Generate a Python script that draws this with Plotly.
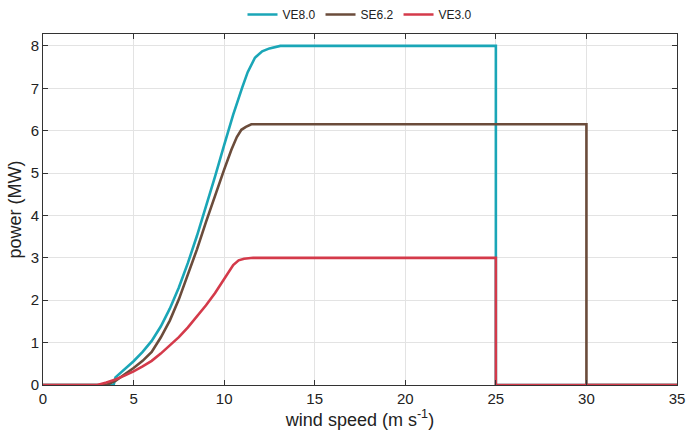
import plotly.graph_objects as go

# VE8.0 power curve
ve8_wind = [0, 3.9, 4.0, 4.5, 5.0, 5.5, 6.0, 6.5, 7.0, 7.5, 8.0, 8.5, 9.0, 9.5, 10.0, 10.5,
            11.0, 11.3, 11.7, 12.1, 12.5, 13.1, 25, 25, 35]
ve8_power = [0, 0, 0.18, 0.36, 0.56, 0.78, 1.04, 1.38, 1.8, 2.3, 2.88, 3.52, 4.2, 4.92, 5.66, 6.38,
             7.02, 7.38, 7.72, 7.87, 7.94, 8.0, 8.0, 0, 0]

# SE6.2 power curve
se6_wind = [0, 3.5, 4.0, 4.5, 5.0, 5.5, 6.0, 6.5, 7.0, 7.5, 8.0, 8.5, 9.0, 9.5, 10.0, 10.4,
            10.7, 10.95, 11.2, 11.5, 30, 30, 35]
se6_power = [0, 0, 0.1, 0.24, 0.4, 0.57, 0.78, 1.12, 1.52, 2.02, 2.6, 3.2, 3.85, 4.48, 5.08, 5.55,
             5.85, 6.02, 6.09, 6.15, 6.15, 0, 0]

# VE3.0 power curve
ve3_wind = [0, 3.0, 3.5, 4.0, 4.5, 5.0, 5.5, 6.0, 6.5, 7.0, 7.5, 8.0, 8.5, 9.0, 9.5, 10.0,
            10.5, 10.8, 11.1, 11.6, 25, 25, 35]
ve3_power = [0, 0, 0.06, 0.13, 0.22, 0.32, 0.44, 0.57, 0.74, 0.93, 1.13, 1.36, 1.62, 1.88, 2.17, 2.5,
             2.83, 2.94, 2.98, 3.0, 3.0, 0, 0]

series = [
    ("VE8.0", ve8_wind, ve8_power, "#1aa6b7"),
    ("SE6.2", se6_wind, se6_power, "#6b4c3b"),
    ("VE3.0", ve3_wind, ve3_power, "#d43a4a"),
]

fig = go.Figure()
for name, x, y, c in series:
    fig.add_trace(go.Scatter(x=x, y=y, mode="lines", name=name,
                             line=dict(color=c, width=2.6)))

font = "Liberation Sans, Arial, sans-serif"
fig.update_layout(
    width=689, height=438,
    margin=dict(l=43, r=12, t=34, b=53, autoexpand=False),
    paper_bgcolor="white", plot_bgcolor="white",
    font=dict(family=font, size=15, color="#222"),
    legend=dict(orientation="h", x=0.5, xanchor="center",
                yref="container", y=1.0, yanchor="top",
                font=dict(size=12, color="#222"), itemwidth=30,
                bgcolor="rgba(0,0,0,0)"),
    showlegend=True,
)
fig.update_xaxes(range=[0, 35], tickvals=[0, 5, 10, 15, 20, 25, 30, 35],
                 showgrid=True, gridcolor="#e3e3e3", gridwidth=1,
                 showline=True, linecolor="#333", linewidth=1, mirror="ticks",
                 ticks="inside", ticklen=5, tickcolor="#333", zeroline=False,
                 automargin=False,
                 title=dict(text="wind speed (m s<sup>-1</sup>)", standoff=6))
fig.update_yaxes(range=[0, 8.28], tickvals=[0, 1, 2, 3, 4, 5, 6, 7, 8],
                 showgrid=True, gridcolor="#e3e3e3", gridwidth=1,
                 showline=True, linecolor="#333", linewidth=1, mirror="ticks",
                 ticks="inside", ticklen=5, tickcolor="#333", zeroline=False,
                 automargin=False,
                 title=dict(text="power (MW)", standoff=4))

fig.write_html("out.html")
